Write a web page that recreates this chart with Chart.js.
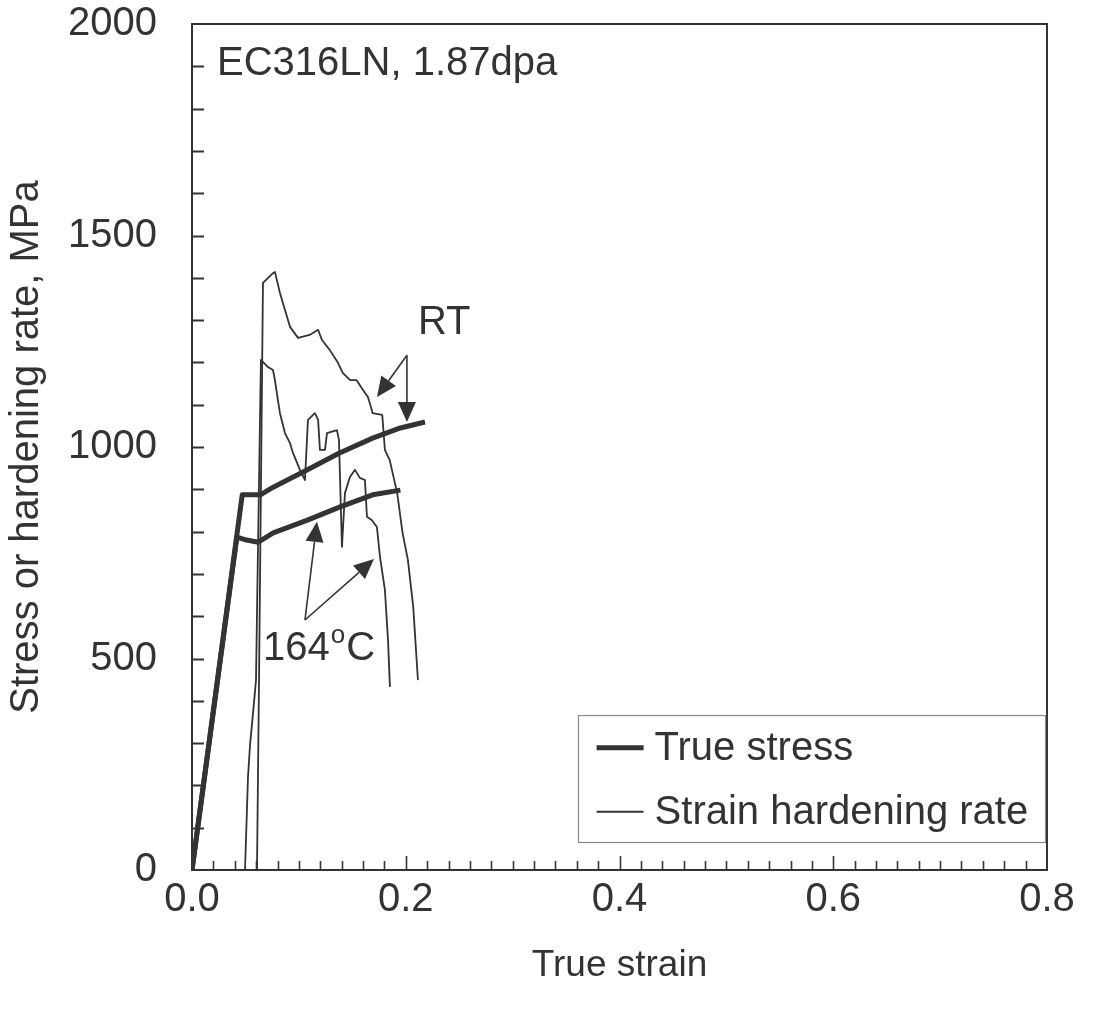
<!DOCTYPE html>
<html>
<head>
<meta charset="utf-8">
<script src="https://cdn.jsdelivr.net/npm/chart.js@4/dist/chart.umd.min.js"></script>
<style>
  html, body { margin: 0; padding: 0; background: #ffffff; }
  #wrap { width: 1102px; height: 1019px; position: relative; }
</style>
</head>
<body>
<div id="wrap"><canvas id="c" width="1102" height="1019"></canvas></div>
<script>
// ---- Data ----
const xTickLabels = ['0.0', '0.2', '0.4', '0.6', '0.8'];
const yTickLabels = ['0', '500', '1000', '1500', '2000'];

// True stress, room temperature
const rtStressStrain = [0, 0.047, 0.064, 0.076, 0.108, 0.138, 0.169, 0.195, 0.218];
const rtStressValue  = [0, 887, 887, 905, 946, 986, 1021, 1045, 1059];

// True stress, 164 C
const hotStressStrain = [0, 0.042, 0.051, 0.062, 0.076, 0.108, 0.138, 0.169, 0.195];
const hotStressValue  = [0, 787, 780, 775, 797, 827, 858, 887, 898];

// Strain hardening rate, room temperature
const rtHardStrain = [0.0608, 0.0627, 0.0664, 0.0758, 0.0776, 0.0823, 0.087, 0.0917, 0.0992, 0.110, 0.118, 0.1216, 0.129, 0.1366, 0.141, 0.148, 0.154, 0.160, 0.1646, 0.1674, 0.169, 0.178, 0.1805, 0.185, 0.192, 0.197, 0.202, 0.207, 0.2114];
const rtHardValue  = [0, 449, 1388, 1411, 1414, 1364, 1324, 1284, 1258, 1265, 1277, 1253, 1229, 1199, 1175, 1158, 1158, 1135, 1118, 1095, 1080, 1076, 993, 969, 891, 797, 733, 622, 449];

// Strain hardening rate, 164 C
const hotHardStrain = [0.0496, 0.0524, 0.0543, 0.0571, 0.0599, 0.0610, 0.0645, 0.0711, 0.0758, 0.0776, 0.0804, 0.0823, 0.087, 0.0917, 0.0945, 0.101, 0.1057, 0.1085, 0.115, 0.118, 0.1197, 0.1244, 0.1263, 0.1356, 0.1375, 0.1403, 0.1431, 0.1478, 0.1525, 0.157, 0.1618, 0.1637, 0.1684, 0.173, 0.1759, 0.1805, 0.1834, 0.1852];
const hotHardValue  = [0, 220, 296, 371, 449, 638, 1206, 1189, 1182, 1158, 1111, 1080, 1033, 1009, 986, 946, 922, 1064, 1080, 1064, 993, 993, 1033, 1040, 1017, 764, 891, 929, 946, 927, 922, 835, 827, 811, 740, 662, 544, 433];

// Annotation anchors (data coordinates)
const rtLabel = { x: 0.2114, y: 1293, text: 'RT' };
const rtArrows = { from: [0.2011, 1217], to: [[0.1731, 1118], [0.2011, 1059]] };
const hotLabel = { x: 0.0664, y: 522, text: '164', sup: 'o', tail: 'C' };
const hotArrows = { from: [0.1057, 591], to: [[0.1169, 823], [0.1703, 735]] };
const panelLabel = { x: 0.0234, y: 1905, text: 'EC316LN, 1.87dpa' };
const legendItems = ['True stress', 'Strain hardening rate'];

// ---- Helpers ----
const FONT = '"Liberation Sans", Arial, Helvetica, sans-serif';
const INK = '#333333';
const FS = 40;
function pts(xs, ys) { return xs.map((x, i) => ({ x: x, y: ys[i] })); }

const thick = 5, thin = 1.8;

const decor = {
  id: 'decor',
  afterDraw(chart) {
    const ctx = chart.ctx;
    const xs = chart.scales.x, ys = chart.scales.y;
    const a = chart.chartArea;
    ctx.save();
    // frame
    ctx.strokeStyle = INK;
    ctx.lineWidth = 2;
    ctx.strokeRect(a.left, a.top, a.right - a.left, a.bottom - a.top);
    // y ticks (inward), every 100
    ctx.lineWidth = 2;
    for (let v = 100; v < 2000; v += 100) {
      const py = Math.round(ys.getPixelForValue(v)) + 0.5;
      ctx.beginPath(); ctx.moveTo(a.left, py); ctx.lineTo(a.left + 12, py); ctx.stroke();
    }
    // x ticks (inward), every 0.02, longer every 0.2
    ctx.lineWidth = 1.6;
    for (let i = 1; i < 40; i++) {
      const px = Math.round(xs.getPixelForValue(i * 0.02)) + 0.5;
      const len = (i % 10 === 0) ? 14 : 9;
      ctx.beginPath(); ctx.moveTo(px, a.bottom); ctx.lineTo(px, a.bottom - len); ctx.stroke();
    }

    // arrows
    function arrow(x0, y0, x1, y1) {
      const ang = Math.atan2(y1 - y0, x1 - x0);
      const hl = 20, hw = 9;
      const bx = x1 - hl * Math.cos(ang), by = y1 - hl * Math.sin(ang);
      ctx.lineWidth = 1.6;
      ctx.strokeStyle = INK;
      ctx.beginPath(); ctx.moveTo(x0, y0); ctx.lineTo(bx, by); ctx.stroke();
      ctx.fillStyle = INK;
      ctx.beginPath();
      ctx.moveTo(x1, y1);
      ctx.lineTo(bx + hw * Math.sin(ang), by - hw * Math.cos(ang));
      ctx.lineTo(bx - hw * Math.sin(ang), by + hw * Math.cos(ang));
      ctx.closePath(); ctx.fill();
    }
    [rtArrows, hotArrows].forEach(g => {
      const fx = xs.getPixelForValue(g.from[0]), fy = ys.getPixelForValue(g.from[1]);
      g.to.forEach(t => arrow(fx, fy, xs.getPixelForValue(t[0]), ys.getPixelForValue(t[1])));
    });

    // texts
    ctx.fillStyle = INK;
    ctx.textBaseline = 'middle';
    ctx.textAlign = 'left';
    ctx.font = FS + 'px ' + FONT;
    ctx.fillText(rtLabel.text, xs.getPixelForValue(rtLabel.x), ys.getPixelForValue(rtLabel.y));
    ctx.fillText(panelLabel.text, xs.getPixelForValue(panelLabel.x), ys.getPixelForValue(panelLabel.y));
    let hx = xs.getPixelForValue(hotLabel.x), hy = ys.getPixelForValue(hotLabel.y);
    ctx.fillText(hotLabel.text, hx, hy);
    hx += ctx.measureText(hotLabel.text).width + 1;
    ctx.font = '26px ' + FONT;
    ctx.fillText(hotLabel.sup, hx, hy - 13);
    hx += ctx.measureText(hotLabel.sup).width + 1;
    ctx.font = FS + 'px ' + FONT;
    ctx.fillText(hotLabel.tail, hx, hy);

    // legend box
    const lx0 = a.left + (a.right - a.left) * 0.451, lx1 = a.right;
    const ly0 = ys.getPixelForValue(367), ly1 = ys.getPixelForValue(66);
    ctx.strokeStyle = '#8a8a8a';
    ctx.lineWidth = 1.2;
    ctx.strokeRect(Math.round(lx0) + 0.5, Math.round(ly0) + 0.5, Math.round(lx1 - lx0) - 2, Math.round(ly1 - ly0));
    const rows = [ly0 + 33, ly0 + 97];
    const widths = [thick, thin];
    rows.forEach((ry, i) => {
      ctx.strokeStyle = INK;
      ctx.lineWidth = widths[i];
      ctx.beginPath(); ctx.moveTo(lx0 + 19, ry); ctx.lineTo(lx0 + 66, ry); ctx.stroke();
      ctx.fillStyle = INK;
      ctx.font = FS + 'px ' + FONT;
      ctx.textBaseline = 'middle';
      ctx.fillText(legendItems[i], lx0 + 77, ry + 1);
    });
    ctx.restore();
  }
};

const lineDs = (label, data, w) => ({
  label: label, data: data, showLine: true, borderColor: INK, borderWidth: w,
  pointRadius: 0, pointHoverRadius: 0, tension: 0, fill: false,
  borderJoinStyle: 'round', borderCapStyle: 'butt'
});

new Chart(document.getElementById('c'), {
  type: 'scatter',
  data: {
    datasets: [
      lineDs('True stress RT', pts(rtStressStrain, rtStressValue), thick),
      lineDs('True stress 164C', pts(hotStressStrain, hotStressValue), thick),
      lineDs('Strain hardening rate RT', pts(rtHardStrain, rtHardValue), thin),
      lineDs('Strain hardening rate 164C', pts(hotHardStrain, hotHardValue), thin)
    ]
  },
  options: {
    responsive: false,
    animation: false,
    devicePixelRatio: 1,
    layout: { padding: { top: 24, right: 55, left: 0, bottom: 0 } },
    plugins: { legend: { display: false }, tooltip: { enabled: false } },
    scales: {
      x: {
        type: 'linear', min: 0, max: 0.8,
        grid: { display: false, drawTicks: false },
        border: { display: false },
        ticks: {
          stepSize: 0.2, padding: 6, color: INK,
          font: { family: FONT, size: FS },
          callback: (v) => { const i = Math.round(v / 0.2); return Math.abs(v - i * 0.2) < 1e-9 ? xTickLabels[i] : ''; },
          maxRotation: 0
        },
        title: { display: true, text: 'True strain', color: INK, font: { family: FONT, size: 37 }, padding: { top: 0, bottom: 31 } },
        afterFit: (s) => { s.height = 149; s.paddingLeft = 0; s.paddingRight = 0; }
      },
      y: {
        type: 'linear', min: 0, max: 2000,
        grid: { display: false, drawTicks: false },
        border: { display: false },
        ticks: {
          stepSize: 500, padding: 35, color: INK,
          font: { family: FONT, size: FS },
          callback: (v) => { const i = Math.round(v / 500); return yTickLabels[i]; }
        },
        title: { display: true, text: 'Stress or hardening rate, MPa', color: INK, font: { family: FONT, size: FS }, padding: { top: 3, bottom: 0 } },
        afterFit: (s) => { s.width = 192; s.paddingTop = 0; s.paddingBottom = 0; }
      }
    }
  },
  plugins: [decor]
});
</script>
</body>
</html>
